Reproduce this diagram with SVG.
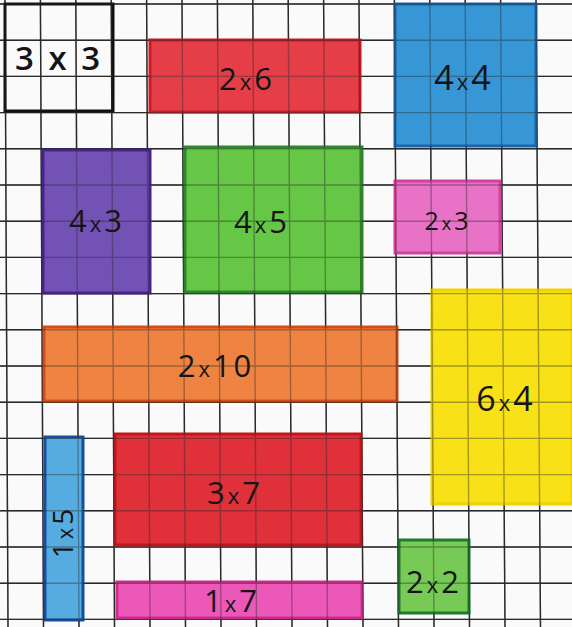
<svg xmlns="http://www.w3.org/2000/svg" width="572" height="627" viewBox="0 0 572 627">
<style>
.lbl{font-family:"Open Sans","DejaVu Sans",sans-serif;font-size:31px;fill:#141414;text-anchor:middle;letter-spacing:3px}
.sx{font-size:22px}
.box{stroke-width:3}
.grid{stroke:#2a2a2a;stroke-width:1.4;fill:none}
.over{opacity:0.4}
</style>
<defs>
<g id="gridlines">
<path d="M5 0L8 627M40.4 0L43.5 627M75.8 0L79 627M111.2 0L114.5 627M146.6 0L150 627M182 0L185.5 627M217.4 0L221 627M252.8 0L256.5 627M288.2 0L292 627M323.6 0L327.5 627M359 0L363 627M394.4 0L398.5 627M429.8 0L434 627M465.2 0L469.5 627M500.6 0L505 627M536 0L540.5 627"/>
<path d="M0 4H572M0 40.2H572M0 76.4H572M0 112.6H572M0 148.8H572M0 185H572M0 221.2H572M0 257.4H572M0 293.6H572M0 329.8H572M0 366H572M0 402.2H572M0 438.4H572M0 474.6H572M0 510.8H572M0 547H572M0 583.2H572M0 619.4H572"/>
</g>
</defs>
<rect x="0" y="0" width="572" height="627" fill="#fafafa"/>
<g id="grid" class="grid"><use href="#gridlines"/></g>
<g id="connectors"></g>
<g id="n3x3">
<rect x="5" y="4" width="108" height="107" fill="none" stroke="#111" stroke-width="3"/>
<text class="lbl" x="59" y="70" style="font-size:33px;font-weight:600">3 x 3</text>
</g>
<g id="n2x6">
<rect class="box" x="150" y="40" width="210" height="72" fill="#e53e48" stroke="#cc1a26"/>
<text class="lbl" x="247" y="90">2<tspan class="sx">x</tspan>6</text>
</g>
<g id="n4x4">
<rect class="box" x="395" y="4" width="141" height="142" fill="#3796d6" stroke="#1a64ad"/>
<text class="lbl" x="464" y="90" style="font-size:34px">4<tspan class="sx">x</tspan>4</text>
</g>
<g id="n4x3">
<rect class="box" x="43" y="150" width="107" height="143" fill="#7352b6" stroke="#46258a"/>
<text class="lbl" x="97" y="232">4<tspan class="sx">x</tspan>3</text>
</g>
<g id="n4x5">
<rect class="box" x="185" y="147" width="177" height="145" fill="#66c645" stroke="#2a8a2a"/>
<text class="lbl" x="262" y="233">4<tspan class="sx">x</tspan>5</text>
</g>
<g id="n2x3">
<rect class="box" x="395" y="181" width="105" height="72" fill="#e872c6" stroke="#d4409e"/>
<text class="lbl" x="448" y="230" style="font-size:25px">2<tspan class="sx" style="font-size:18px">x</tspan>3</text>
</g>
<g id="n2x10">
<rect class="box" x="44" y="327" width="353" height="74" fill="#ef8442" stroke="#d54c18"/>
<text class="lbl" x="216" y="377">2<tspan class="sx">x</tspan>10</text>
</g>
<g id="n6x4">
<rect class="box" x="432" y="290" width="140" height="214" fill="#f8e116" stroke="#f0d200"/>
<text class="lbl" x="506" y="411" style="font-size:34px">6<tspan class="sx">x</tspan>4</text>
</g>
<g id="n1x5">
<rect class="box" x="45" y="437" width="38" height="183" fill="#56ace0" stroke="#174f9a"/>
<text class="lbl" x="0" y="0" transform="translate(73 532) rotate(-90)" style="font-size:28px">1<tspan class="sx">x</tspan>5</text>
</g>
<g id="n3x7">
<rect class="box" x="115" y="434" width="246" height="111" fill="#e0303a" stroke="#c5141e"/>
<text class="lbl" x="235" y="504">3<tspan class="sx">x</tspan>7</text>
</g>
<g id="n1x7">
<rect class="box" x="117" y="582" width="245" height="36" fill="#ec58b8" stroke="#d42a90"/>
<text class="lbl" x="232" y="612">1<tspan class="sx">x</tspan>7</text>
</g>
<g id="n2x2">
<rect class="box" x="399" y="540" width="70" height="73" fill="#78ca56" stroke="#1e7a2a"/>
<text class="lbl" x="434" y="593">2<tspan class="sx">x</tspan>2</text>
</g>
<g id="gridover" class="grid over"><use href="#gridlines"/></g>
</svg>
